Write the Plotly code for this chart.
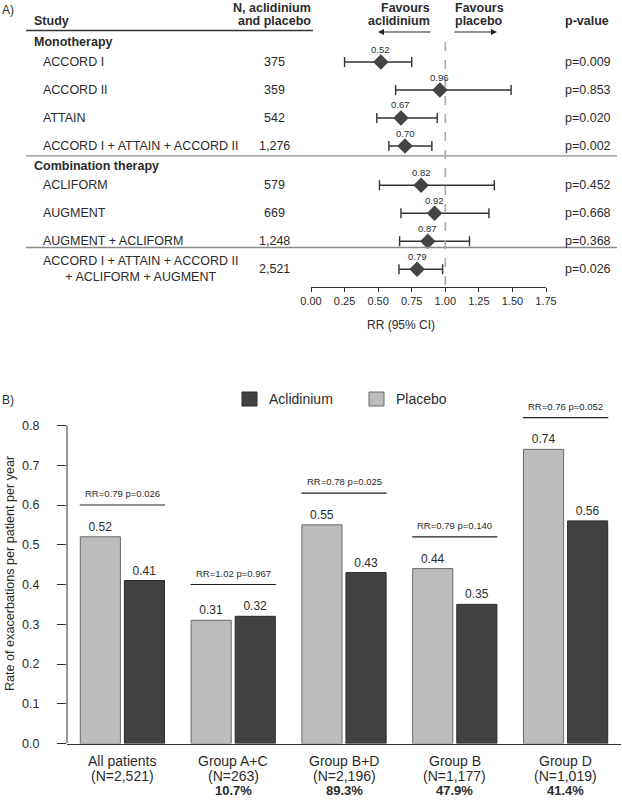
import plotly.graph_objects as go

# ---------------- Panel A data ----------------
subgroup_titles = ["Monotherapy", "Combination therapy"]
studies = ["ACCORD I", "ACCORD II", "ATTAIN", "ACCORD I + ATTAIN + ACCORD II",
           "ACLIFORM", "AUGMENT", "AUGMENT + ACLIFORM",
           "ACCORD I + ATTAIN + ACCORD II<br>+ ACLIFORM + AUGMENT"]
study_block = [0, 0, 0, 0, 1, 1, 1, 2]
n_patients = ["375", "359", "542", "1,276", "579", "669", "1,248", "2,521"]
rr = [0.52, 0.96, 0.67, 0.70, 0.82, 0.92, 0.87, 0.79]
ci_low = [0.25, 0.63, 0.49, 0.58, 0.51, 0.67, 0.66, 0.655]
ci_high = [0.75, 1.49, 0.94, 0.90, 1.365, 1.325, 1.18, 0.98]
p_values = ["p=0.009", "p=0.853", "p=0.020", "p=0.002",
            "p=0.452", "p=0.668", "p=0.368", "p=0.026"]
rr_ticks = [0.00, 0.25, 0.50, 0.75, 1.00, 1.25, 1.50, 1.75]

# ---------------- Panel B data ----------------
groups = ["All patients", "Group A+C", "Group B+D", "Group B", "Group D"]
group_n = ["(N=2,521)", "(N=263)", "(N=2,196)", "(N=1,177)", "(N=1,019)"]
group_pct = ["", "10.7%", "89.3%", "47.9%", "41.4%"]
placebo = [0.52, 0.31, 0.55, 0.44, 0.74]
aclidinium = [0.41, 0.32, 0.43, 0.35, 0.56]
group_rr = ["0.79", "1.02", "0.78", "0.79", "0.76"]
group_p = ["0.026", "0.967", "0.025", "0.140", "0.052"]
rate_ticks = [0.0, 0.1, 0.2, 0.3, 0.4, 0.5, 0.6, 0.7, 0.8]

# ---------------- layout helpers ----------------
W, H = 622, 800
FONT = "Liberation Sans, Arial, Helvetica, sans-serif"
TXT = "#2b2b2b"
PLACEBO_C, ACLI_C = "#bcbcbc", "#424242"

def px_x(p):
    return p / W

def px_y(p):
    return 1 - p / H

ROW0_PX, ROW_PX = 62, 28          # panel A row geometry
A_TOP_PX, A_BOT_PX = 30, 287
GROUP_GAP = 0.4

def row_to_paper(u):
    return px_y(ROW0_PX + ROW_PX * u)

rows = [i + (GROUP_GAP if b > 0 else 0) for i, b in enumerate(study_block)]

fig = go.Figure()

# forest plot markers
fig.add_trace(go.Scatter(
    x=rr, y=rows, mode="markers",
    marker=dict(symbol="diamond", size=12, color="#444444"),
    error_x=dict(type="data", symmetric=False,
                 array=[h - v for h, v in zip(ci_high, rr)],
                 arrayminus=[v - l for l, v in zip(ci_low, rr)],
                 color="#333333", thickness=1.4, width=5),
    xaxis="x", yaxis="y", showlegend=False, cliponaxis=False, hoverinfo="skip"))

# bar chart
cat_idx = list(range(len(groups)))
fig.add_trace(go.Bar(
    x=cat_idx, y=placebo, name="Placebo",
    marker=dict(color=PLACEBO_C, line=dict(color="#6a6a6a", width=1)),
    text=[f"{v:.2f}" for v in placebo], textposition="outside",
    textfont=dict(size=12, color=TXT, family=FONT), cliponaxis=False,
    xaxis="x2", yaxis="y2", hoverinfo="skip", showlegend=False))
fig.add_trace(go.Bar(
    x=cat_idx, y=aclidinium, name="Aclidinium",
    marker=dict(color=ACLI_C, line=dict(color="#2a2a2a", width=1)),
    text=[f"{v:.2f}" for v in aclidinium], textposition="outside",
    textfont=dict(size=12, color=TXT, family=FONT), cliponaxis=False,
    xaxis="x2", yaxis="y2", hoverinfo="skip", showlegend=False))

ann = []
shapes = []

def text(x, y, s, size=12.5, bold=False, xanchor="left", yanchor="middle", xref="paper", **kw):
    ann.append(dict(x=x, y=y, xref=xref, yref="paper", text=(f"<b>{s}</b>" if bold else s),
                    showarrow=False, xanchor=xanchor, yanchor=yanchor,
                    font=dict(size=size, color=TXT, family=FONT), **kw))

# Panel A headers
text(px_x(0), px_y(10), "A)", size=12)
text(px_x(32), px_y(21), "Study", bold=True)
text(px_x(313), px_y(8), "N, aclidinium", bold=True, xanchor="right")
text(px_x(313), px_y(21), "and placebo", bold=True, xanchor="right")
text(px_x(432), px_y(8), "Favours", bold=True, xanchor="right")
text(px_x(432), px_y(21), "aclidinium", bold=True, xanchor="right")
text(px_x(453), px_y(8), "Favours", bold=True, xanchor="left")
text(px_x(453), px_y(21), "placebo", bold=True, xanchor="left")
text(px_x(563), px_y(21), "p-value", bold=True, xanchor="left")

# arrows
ann.append(dict(x=px_x(378), y=px_y(32), xref="paper", yref="paper", ax=54, ay=0,
                showarrow=True, arrowhead=2, arrowsize=1, arrowwidth=1.2,
                arrowcolor="#222222", text=""))
ann.append(dict(x=px_x(497), y=px_y(32), xref="paper", yref="paper", ax=-44, ay=0,
                showarrow=True, arrowhead=2, arrowsize=1, arrowwidth=1.2,
                arrowcolor="#222222", text=""))

# subgroup titles
for g, title in enumerate(subgroup_titles):
    first = rows[study_block.index(g)]
    text(px_x(32), row_to_paper(first - 0.7), title, bold=True)

# study rows
for i, s in enumerate(studies):
    text(px_x(41), row_to_paper(rows[i]), s)
    text(px_x(274), row_to_paper(rows[i]), n_patients[i], xanchor="center")
    text(px_x(563), row_to_paper(rows[i]), p_values[i])
    # RR label above marker
    ann.append(dict(x=rr[i], y=row_to_paper(rows[i]), xref="x", yref="paper", yshift=13,
                    text=f"{rr[i]:.2f}", showarrow=False, xanchor="center", yanchor="middle",
                    font=dict(size=9.5, color=TXT, family=FONT)))

# lines
shapes.append(dict(type="line", xref="paper", yref="paper", x0=px_x(26), x1=px_x(313),
                   y0=px_y(30.5), y1=px_y(30.5), line=dict(color="#333333", width=1.3)))
for b in (1, 2):
    last_prev = rows[study_block.index(b) - 1]
    nxt = rows[study_block.index(b)] - (0.7 if b < 2 else 0.55)
    yy = row_to_paper((last_prev + nxt) / 2)
    shapes.append(dict(type="line", xref="paper", yref="paper", x0=px_x(26), x1=px_x(617),
                       y0=yy, y1=yy, line=dict(color="#8a8a8a", width=1.3)))
# null line
shapes.append(dict(type="line", xref="x", yref="paper", x0=1, x1=1,
                   y0=px_y(42), y1=px_y(A_BOT_PX),
                   line=dict(color="#a8a8a8", width=1.6, dash="dash")))

text(px_x(401), px_y(325), "RR (95% CI)", xanchor="center", size=12)

# Panel B texts
text(px_x(0), px_y(400), "B)", size=12)
ann.append(dict(x=px_x(10), y=px_y(574), xref="paper", yref="paper",
                text="Rate of exacerbations per patient per year", textangle=-90,
                showarrow=False, xanchor="center", yanchor="middle",
                font=dict(size=12.6, color=TXT, family=FONT)))

# manual legend
for (lx, label, col, edge) in [(242, "Aclidinium", ACLI_C, "#2a2a2a"),
                               (369, "Placebo", PLACEBO_C, "#6a6a6a")]:
    shapes.append(dict(type="rect", xref="paper", yref="paper",
                       x0=px_x(lx), x1=px_x(lx + 15), y0=px_y(406), y1=px_y(392),
                       fillcolor=col, line=dict(color=edge, width=1)))
    text(px_x(lx + 25), px_y(399), label, size=14)

for i in cat_idx:
    top = max(placebo[i], aclidinium[i]) + 0.08
    shapes.append(dict(type="line", xref="x2", yref="y2", x0=i - 0.385, x1=i + 0.385,
                       y0=top, y1=top, line=dict(color="#222222", width=1.2)))
    ann.append(dict(x=i, y=top, xref="x2", yref="y2", yshift=4,
                    text=f"RR={group_rr[i]} p={group_p[i]}", showarrow=False,
                    xanchor="center", yanchor="bottom",
                    font=dict(size=9.5, color=TXT, family=FONT)))
    # category labels
    text(i, px_y(761), groups[i], size=14, xanchor="center", xref="x2")
    text(i, px_y(775.5), group_n[i], size=14, xanchor="center", xref="x2")
    if group_pct[i]:
        text(i, px_y(790.5), group_pct[i], size=13, bold=True, xanchor="center", xref="x2")

# y axis line B
shapes.append(dict(type="line", xref="x2 domain", yref="y2", x0=0, x1=0, y0=0, y1=0.8,
                   line=dict(color="#333333", width=1)))

B_TOP_PX, B_BOT_PX = 413, 743.5
rate_top = (B_BOT_PX - B_TOP_PX) / 397.5

fig.update_layout(
    width=W, height=H, margin=dict(l=0, r=0, t=0, b=0, pad=0, autoexpand=False),
    paper_bgcolor="white", plot_bgcolor="white", showlegend=False,
    font=dict(family=FONT, size=12, color=TXT),
    barmode="group", bargap=0.204, bargroupgap=0.09,
    xaxis=dict(domain=[px_x(311), px_x(546)], range=[0, 1.75], tickvals=rr_ticks,
               ticktext=[f"{v:.2f}" for v in rr_ticks], showline=True, linecolor="#333333",
               linewidth=1, ticks="outside", ticklen=4, tickcolor="#333333",
               showgrid=False, zeroline=False, anchor="y", automargin=False,
               tickfont=dict(size=11, color=TXT)),
    yaxis=dict(domain=[px_y(A_BOT_PX), px_y(A_TOP_PX)],
               range=[(A_BOT_PX - ROW0_PX) / ROW_PX, (A_TOP_PX - ROW0_PX) / ROW_PX],
               visible=False, showgrid=False, zeroline=False, automargin=False),
    xaxis2=dict(domain=[px_x(67), px_x(621)], range=[-0.5, len(groups) - 0.5],
                showticklabels=False, showline=True, linecolor="#333333",
                linewidth=1, ticks="", showgrid=False, zeroline=False, anchor="y2",
                automargin=False),
    yaxis2=dict(domain=[px_y(B_BOT_PX), px_y(B_TOP_PX)], range=[0, rate_top],
                tickvals=rate_ticks, ticktext=[f"{v:.1f}" for v in rate_ticks],
                showline=False, ticks="outside", ticklen=9, tickcolor="#333333",
                showgrid=False, zeroline=False, anchor="x2", ticklabelstandoff=15,
                automargin=False, tickfont=dict(size=12.5, color=TXT)),
    annotations=ann, shapes=shapes,
)

fig.write_html("out.html", config={"displayModeBar": False, "staticPlot": True},
               post_script="document.body.style.margin='0px';"
                           "document.documentElement.style.overflow='hidden';")
